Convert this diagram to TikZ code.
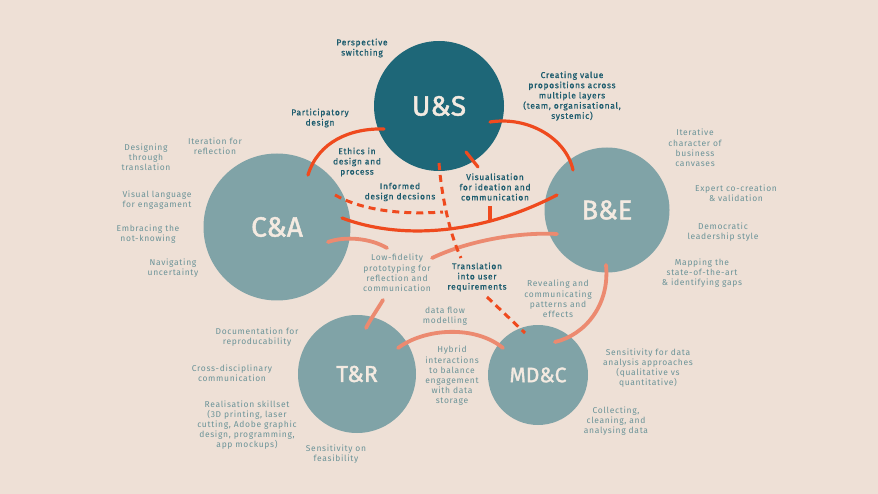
\documentclass[tikz,border=0pt]{standalone}
\usepackage{fontspec}
\setmainfont{Fira Sans}[LetterSpace=8]
\newfontfamily\dkfont{Fira Sans}[LetterSpace=8,FakeBold=0.8]
\newfontfamily\cfont{Fira Sans}[FakeBold=1.6]
\definecolor{bgc}{HTML}{EEE0D6}
\definecolor{darkcirc}{HTML}{1E6778}
\definecolor{lightcirc}{HTML}{80A3A7}
\definecolor{dtext}{HTML}{1D5C6E}
\definecolor{ltext}{HTML}{6B9398}
\definecolor{redc}{HTML}{EF4A1E}
\definecolor{salc}{HTML}{EC8A70}
\definecolor{ctext}{HTML}{F4EAE1}
\begin{document}
\begin{tikzpicture}[x=1pt,y=-1pt,
  circ/.style={circle, inner sep=0pt, text=ctext},
  lbl/.style={align=center, font=\fontsize{8.5}{10.2}\selectfont, inner sep=1pt},
  dk/.style={lbl, text=dtext, font=\dkfont\fontsize{8.5}{10.2}\selectfont},
  lt/.style={lbl, text=ltext},
  redline/.style={draw=redc, line width=3.2pt, line cap=round},
  redd/.style={draw=redc, line width=3pt, dash pattern=on 7pt off 5pt},
  sal/.style={draw=salc, line width=3.8pt, line cap=round}]
\fill[bgc] (0,0) rectangle (878,494);
\useasboundingbox (0,0) rectangle (878,494);
% circles
\node[circ, fill=darkcirc, minimum size=130pt, font=\cfont\fontsize{28}{28}\selectfont] (US) at (439,106) {U\&S};
\node[circ, fill=lightcirc, minimum size=147pt, font=\cfont\fontsize{28}{28}\selectfont] (CA) at (277,227) {C\&A};
\node[circ, fill=lightcirc, minimum size=125pt, font=\cfont\fontsize{27}{27}\selectfont] (BE) at (607,210) {B\&E};
\node[circ, fill=lightcirc, minimum size=118pt, font=\cfont\fontsize{23}{23}\selectfont] (TR) at (357,374) {T\&R};
\node[circ, fill=lightcirc, minimum size=100pt, font=\cfont\fontsize{21}{21}\selectfont] (MC) at (538,375) {MD\&C};
% connector end points
\coordinate (ca1) at (308,175);
\coordinate (us1) at (384,129);
\coordinate (us2) at (490,122);
\coordinate (be1) at (573,170);
\coordinate (us3) at (466,152);
\coordinate (vis1) at (478,167);
\coordinate (vis2) at (490,206);
\coordinate (vis3) at (490,220.5);
\coordinate (us4) at (439,163);
\coordinate (tr1) at (461,258);
\coordinate (tr2) at (487,297);
\coordinate (mc1) at (525,333);
\coordinate (ca2) at (335,195);
\coordinate (jn) at (443,212);
\coordinate (ca3) at (342,218);
\coordinate (be2) at (557,195);
\coordinate (ca4) at (328,242);
\coordinate (lf1) at (387,248);
\coordinate (lf2) at (432,258);
\coordinate (be3) at (557,234);
\coordinate (lf3) at (383,300);
\coordinate (tr3) at (366,328);
\coordinate (be4) at (606,265);
\coordinate (mc2) at (555,342);
\coordinate (tr4) at (398,348);
\coordinate (mc3) at (503,348);
% salmon connectors
\draw[sal] (ca4) .. controls (345,236) and (370,238) .. (lf1);
\draw[sal] (lf2) .. controls (470,240) and (520,232) .. (be3);
\draw[sal] (lf3) .. controls (377,310) and (370,320) .. (tr3);
\draw[sal] (be4) .. controls (610,305) and (585,335) .. (mc2);
\draw[sal] (tr4) .. controls (425,328) and (475,325) .. (mc3);
% red connectors
\draw[redline] (ca1) .. controls (318,142) and (350,128) .. (us1);
\draw[redline] (us2) .. controls (528,116) and (566,138) .. (be1);
\draw[redline] (us3) -- (vis1);
\draw[redline] (ca3) .. controls (400,240) and (480,235) .. (be2);
\draw[redline, line cap=butt] (vis2) -- (vis3);
\draw[redd] (us4) .. controls (441,190) and (448,230) .. (tr1);
\draw[redd] (tr2) -- (mc1);
\draw[redd] (ca2) .. controls (362,210) and (400,215) .. (jn);
% labels near U&S
\node[dk] (l1) at (362,48) {Perspective\\switching};
\node[dk] (l2) at (320,118) {Participatory\\design};
\node[dk] (l3) at (357,162) {Ethics in\\design and\\process};
\node[dk] (l4) at (400,192) {Informed\\design decsions};
\node[dk] (l5) at (495,187) {Visualisation\\for ideation and\\communication};
\node[dk] (l6) at (572,96) {Creating value\\propositions across\\multiple layers\\(team, organisational,\\systemic)};
\node[dk] (l7) at (477,277) {Translation\\into user\\requirements};
% connector labels, light
\node[lt] (l8) at (397,273) {Low-fidelity\\prototyping for\\reflection and\\communication};
\node[lt] (l9) at (558,299) {Revealing and\\communicating\\patterns and\\effects};
\node[lt] (l10) at (445,316) {data flow\\modelling};
\node[lt] (l11) at (452,376) {Hybrid\\interactions\\to balance\\engagement\\with data\\storage};
% C&A
\node[lt] (c1) at (215,146) {Iteration for\\reflection};
\node[lt] (c2) at (146,157) {Designing\\through\\translation};
\node[lt] (c3) at (157,200) {Visual language\\for engagament};
\node[lt] (c4) at (148,234) {Embracing the\\not-knowing};
\node[lt] (c5) at (173,268) {Navigating\\uncertainty};
% B&E
\node[lt] (b1) at (695,148) {Iterative\\character of\\business\\canvases};
\node[lt] (b2) at (736,193) {Expert co-creation\\\& validation};
\node[lt] (b3) at (723,232) {Democratic\\leadership style};
\node[lt] (b4) at (702,273) {Mapping the\\state-of-the-art\\\& identifying gaps};
% T&R
\node[lt] (t1) at (257,337) {Documentation for\\reproducability};
\node[lt] (t2) at (232,373) {Cross-disciplinary\\communication};
\node[lt] (t3) at (247,425) {Realisation skillset\\(3D printing, laser\\cutting, Adobe graphic\\design, programming,\\app mockups)};
\node[lt] (t4) at (336,454) {Sensitivity on\\feasibility};
% MD&C
\node[lt] (m1) at (648,368) {Sensitivity for data\\analysis approaches\\(qualitative vs\\quantitative)};
\node[lt] (m2) at (616,421) {Collecting,\\cleaning, and\\analysing data};
\end{tikzpicture}
\end{document}
